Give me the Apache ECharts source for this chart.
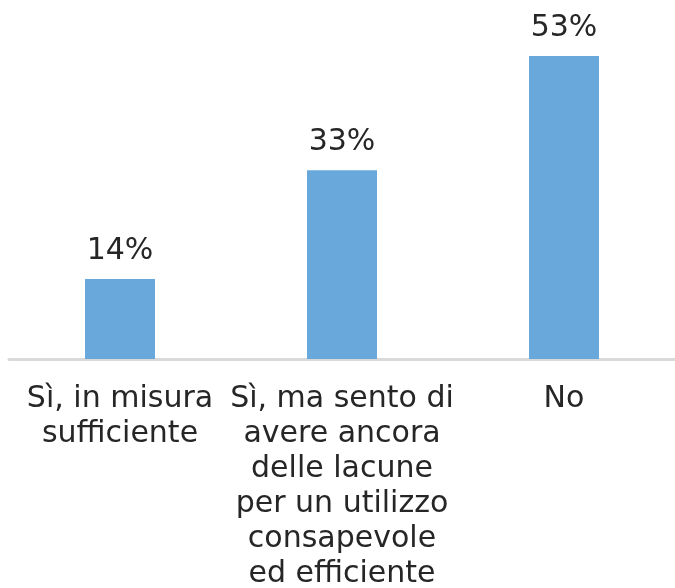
<!DOCTYPE html>
<html>
<head>
<meta charset="utf-8">
<script src="https://cdn.jsdelivr.net/npm/echarts@6/dist/echarts.min.js"></script>
<style>
  html, body { margin: 0; padding: 0; background: #fff; }
  #main { width: 675px; height: 588px; }
</style>
</head>
<body>
<div id="main"></div>
<script>
// dati del grafico
var categorie = [
  'Sì, in misura\nsufficiente',
  'Sì, ma sento di\navere ancora\ndelle lacune\nper un utilizzo\nconsapevole\ned efficiente',
  'No'
];
var valori = [14, 33, 53];

var font = '"DejaVu Sans", Verdana, sans-serif';

var myChart = echarts.init(document.getElementById('main'));
myChart.setOption({
  animation: false,
  grid: {
    left: 9, right: 0, top: 16, bottom: 229,
    containLabel: false,
    outerBoundsMode: 'none'
  },
  xAxis: {
    type: 'category',
    data: categorie,
    axisLine: { lineStyle: { color: '#d9d9d9', width: 3 } },
    axisTick: { show: false },
    axisLabel: {
      interval: 0,
      margin: 23,
      fontFamily: font,
      fontSize: 30,
      lineHeight: 35,
      color: '#262626'
    }
  },
  yAxis: {
    type: 'value',
    min: 0,
    max: 60,
    show: false,
    splitLine: { show: false }
  },
  series: [{
    type: 'bar',
    data: valori,
    barWidth: 70,
    itemStyle: { color: '#68a8db' },
    label: {
      show: true,
      position: 'top',
      distance: 13,
      formatter: '{c}%',
      fontFamily: font,
      fontSize: 30,
      color: '#262626'
    }
  }]
});
</script>
</body>
</html>
